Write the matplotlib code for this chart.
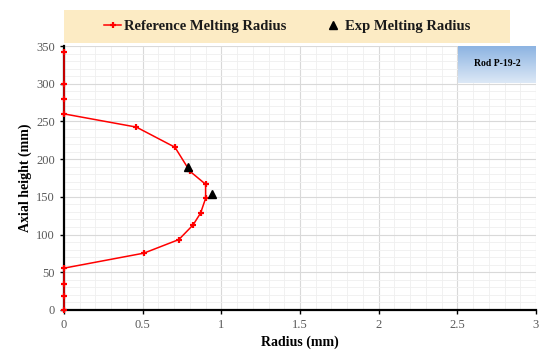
import numpy as np
import matplotlib.pyplot as plt
from matplotlib.patches import Rectangle
from matplotlib.colors import LinearSegmentedColormap
from matplotlib.ticker import MultipleLocator

# reference melting radius profile (radius in mm, axial height in mm)
ref_radius = [0, 0, 0, 0, 0.46, 0.705, 0.80, 0.90, 0.90, 0.868, 0.82, 0.73, 0.508, 0, 0, 0, 0]
ref_height = [342, 300, 280, 260, 242.5, 215.8, 184, 166.7, 148, 128.5, 112.7, 93.4, 75.4, 55.5, 34, 18.5, 0]

# experimental points
exp_radius = [0.79, 0.94]
exp_height = [190, 153.5]

plt.rcParams['font.family'] = ['Liberation Serif', 'DejaVu Serif']

fig = plt.figure(figsize=(5.5, 3.54), dpi=100)
ax = fig.add_axes([0.1164, 0.1243, 0.8581, 0.7457])

ax.plot(ref_radius, ref_height, color='#ff0000', lw=1.1, marker='+', ms=4,
        mew=1.6, label='Reference Melting Radius', zorder=3, clip_on=False)
ax.plot(exp_radius, exp_height, ls='none', marker='^', color='black', ms=6,
        label='Exp Melting Radius', zorder=4)

ax.set_xlim(0, 3)
ax.set_ylim(0, 350)
ax.xaxis.set_major_locator(MultipleLocator(0.5))
ax.xaxis.set_minor_locator(MultipleLocator(0.1))
ax.yaxis.set_major_locator(MultipleLocator(50))
ax.yaxis.set_minor_locator(MultipleLocator(10))
ax.set_xticks([0, 0.5, 1, 1.5, 2, 2.5, 3])
ax.set_xticklabels(['0', '0.5', '1', '1.5', '2', '2.5', '3'])

ax.grid(which='major', color='#d9d9d9', lw=0.8)
ax.grid(which='minor', color='#efefef', lw=0.6)
ax.set_axisbelow(True)

for s in ['top', 'right']:
    ax.spines[s].set_visible(False)
ax.spines['left'].set_linewidth(1.6)
ax.spines['bottom'].set_linewidth(1.6)
ax.tick_params(which='major', length=3, width=1, labelsize=9, labelcolor='#595959')
ax.tick_params(which='minor', length=0)

ax.set_xlabel('Radius (mm)', fontsize=10, fontweight='bold', labelpad=3)
ax.set_ylabel('Axial height (mm)', fontsize=10, fontweight='bold', labelpad=3)

# beige band across the top holding the legend
band = Rectangle((0.0, 1.011), 0.945, 0.125, transform=ax.transAxes,
                 facecolor='#fcebc4', edgecolor='none', clip_on=False, zorder=1)
ax.add_patch(band)
leg = ax.legend(loc='center', bbox_to_anchor=(0.4725, 1.0735), ncol=2,
                frameon=False, prop={'weight': 'bold', 'size': 10.5},
                handlelength=1.2, handletextpad=0.2, columnspacing=2.6,
                borderaxespad=0)
for t in leg.get_texts():
    t.set_color('#1a1a1a')

# blue label box in the upper right corner
grad = np.linspace(0, 1, 50).reshape(-1, 1)
ax.imshow(grad, cmap=LinearSegmentedColormap.from_list('bl', ['#8db4e2', '#dce8f6']),
          extent=[0.835, 1.0, 0.86, 1.0], transform=ax.transAxes,
          aspect='auto', zorder=2)
ax.text(0.9175, 0.935, 'Rod P-19-2', transform=ax.transAxes, ha='center',
        va='center', fontsize=7, fontweight='bold', zorder=5)

fig.savefig('out.png', dpi=100)
